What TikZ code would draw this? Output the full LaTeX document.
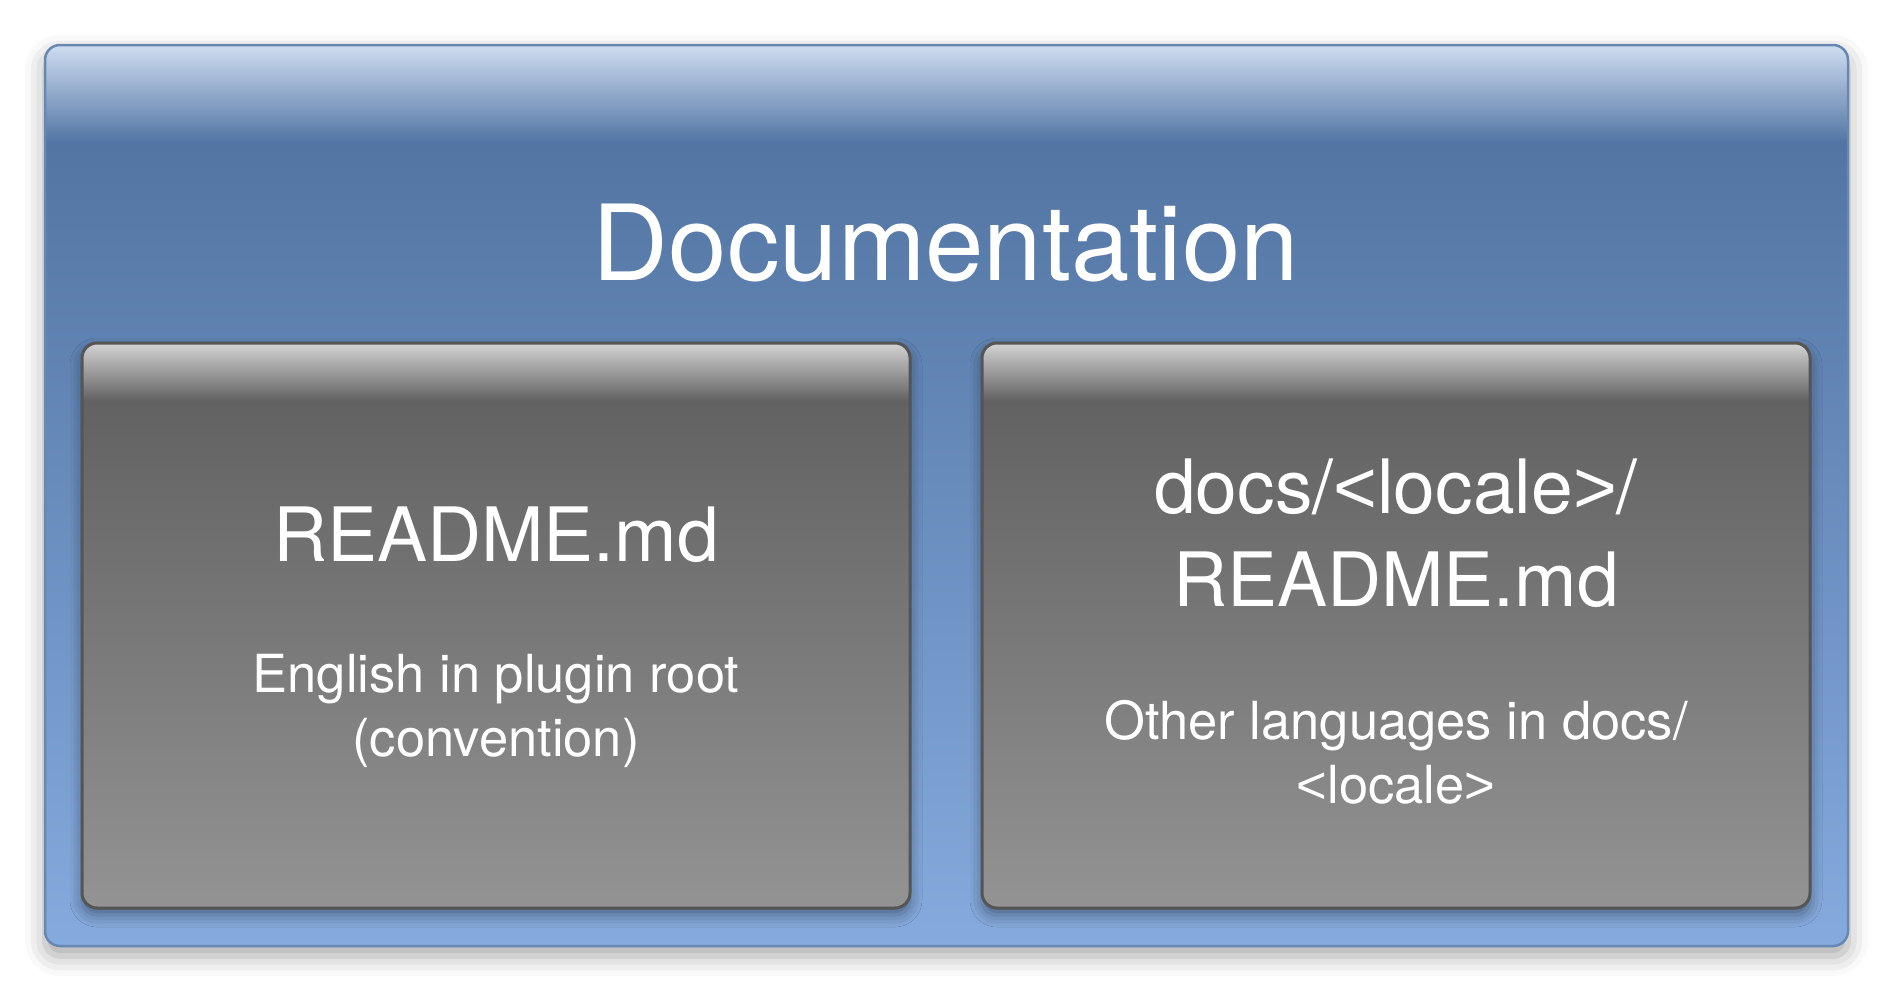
\documentclass[tikz,border=0pt]{standalone}
\usepackage{fontspec}
\setmainfont{TeX Gyre Heros}
\newfontfamily\anglefont{Liberation Sans}
\usetikzlibrary{shadows.blur}

% wide angle brackets around placeholders
\newcommand{\lt}{{\anglefont<}}
\newcommand{\gt}{{\anglefont>}}

\definecolor{outerlow}{RGB}{133,170,221}
\definecolor{outermid}{RGB}{82,117,163}
\definecolor{outertop}{RGB}{207,221,241}
\definecolor{outerline}{RGB}{104,136,180}
\definecolor{cardlow}{RGB}{147,147,147}
\definecolor{cardmid}{RGB}{98,98,98}
\definecolor{cardtop}{RGB}{212,212,212}
\definecolor{cardline}{RGB}{85,85,85}

% glossy fills: the path spans 25bp (bottom) to 75bp (top)
\pgfdeclareverticalshading{outerfill}{100bp}{%
  color(0bp)=(outerlow); color(25bp)=(outerlow);
  color(69.6bp)=(outermid); color(75bp)=(outertop); color(100bp)=(outertop)}
\pgfdeclareverticalshading{cardfill}{100bp}{%
  color(0bp)=(cardlow); color(25bp)=(cardlow);
  color(69.9bp)=(cardmid); color(75bp)=(cardtop); color(100bp)=(cardtop)}

\tikzset{
  panel/.style={draw=outerline, line width=2.5pt, rounded corners=15pt,
    shading=outerfill, inner sep=0pt,
    blur shadow={shadow xshift=0pt, shadow yshift=-10pt,
      shadow blur radius=20pt, shadow opacity=35}},
  card/.style={draw=cardline, line width=3pt, rounded corners=15pt,
    shading=cardfill, inner sep=0pt,
    blur shadow={shadow xshift=0pt, shadow yshift=-7pt,
      shadow blur radius=12pt, shadow opacity=40}},
  title/.style={text=white, anchor=base, inner sep=0pt,
    font=\fontsize{105}{110}\selectfont},
  head/.style={text=white, anchor=base, inner sep=0pt,
    font=\fontsize{75}{80}\selectfont},
  note/.style={text=white, anchor=base, inner sep=0pt,
    font=\fontsize{52.5}{56}\selectfont},
}

\begin{document}
\begin{tikzpicture}[x=1pt, y=-1pt]
  \useasboundingbox (0,0) rectangle (1891,991);

  % outer panel
  \node[panel, minimum width=1803pt, minimum height=901pt] (docs) at (946.5,495.5) {};
  \node[title] (docstitle) at (946,280) {Documentation};

  % left card
  \node[card, minimum width=828pt, minimum height=565pt] (rootcard) at (496,625.5) {};
  \node[head] (roothead) at (496,561) {README.md};
  \node[note] (rootnote1) at (496,692) {English in plugin root};
  \node[note] (rootnote2) at (496,756) {(convention)};

  % right card
  \node[card, minimum width=828pt, minimum height=565pt] (localecard) at (1396,625.5) {};
  \node[head] (localehead1) at (1396,513) {docs/\lt locale\gt/};
  \node[head] (localehead2) at (1396,606) {README.md};
  \node[note] (localenote1) at (1396,739) {Other languages in docs/};
  \node[note] (localenote2) at (1396,803) {\lt locale\gt};
\end{tikzpicture}
\end{document}
